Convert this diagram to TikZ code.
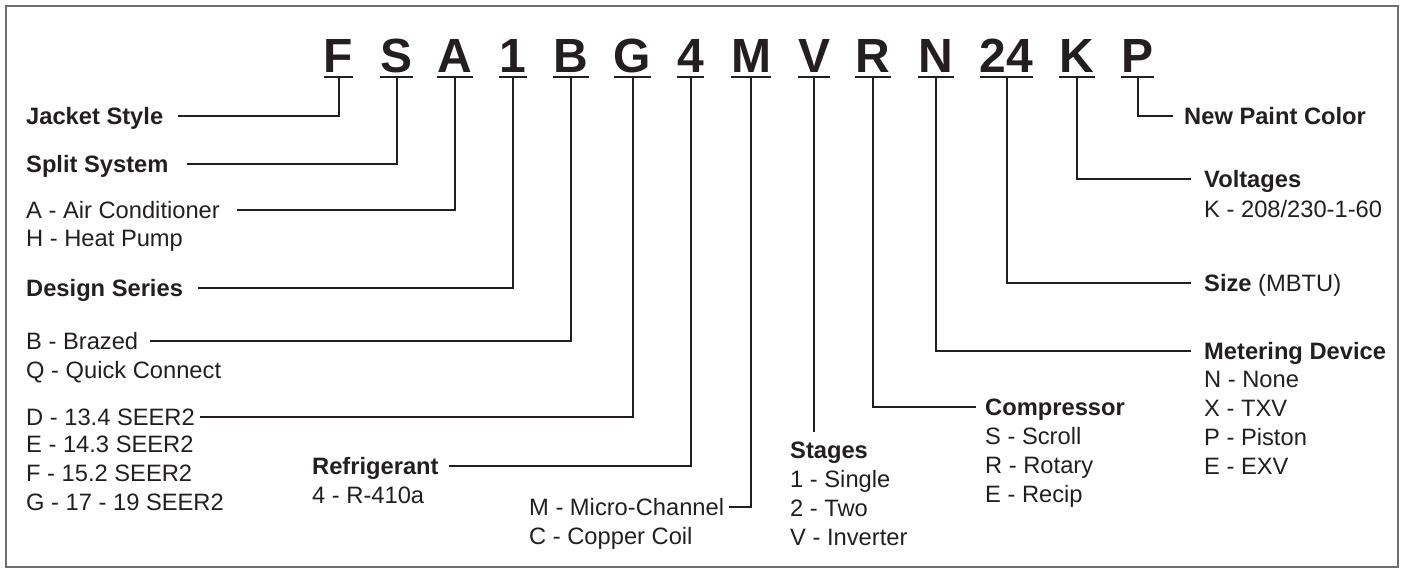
\documentclass[tikz,border=0pt]{standalone}
\usepackage{fontspec}
\setmainfont{Liberation Sans}
\usetikzlibrary{positioning}
\definecolor{ink}{HTML}{231F20}
\definecolor{framegray}{HTML}{6D6E71}

\begin{document}
\begin{tikzpicture}[x=1pt, y=1pt,
    code/.style={anchor=base, inner xsep=0pt, inner ysep=4.5pt, text depth=0pt, text=ink,
        font=\fontsize{48}{48}\selectfont\bfseries,
        append after command={(\tikzlastnode.south west) edge[conn] (\tikzlastnode.south east)}},
    lbl/.style={anchor=west, inner sep=0pt, text height=17pt, text depth=1pt, text=ink,
        font=\fontsize{23.7}{29}\selectfont},
    head/.style={lbl, font=\fontsize{23.7}{29}\selectfont\bfseries},
    list/.style={inner sep=0pt, align=left, text=ink, font=\fontsize{23.7}{29}\selectfont},
    conn/.style={draw=ink, line width=2pt}]
    \useasboundingbox (0,0) rectangle (1404,-568);

    % Frame
    \draw[framegray, line width=2pt] (5.5,-6) rectangle (1397.5,-566.5);

    % Code letters
    \node[code] (f) at (338.5,-72) {F};
    \node[code] (s) at (396.5,-72) {S};
    \node[code] (a) at (455,-72) {A};
    \node[code] (one) at (513,-72) {1};
    \node[code] (b) at (571,-72) {B};
    \node[code] (g) at (632.5,-72) {G};
    \node[code] (four) at (690.5,-72) {4};
    \node[code] (m) at (751,-72) {M};
    \node[code] (v) at (814,-72) {V};
    \node[code] (r) at (873,-72) {R};
    \node[code] (n) at (936,-72) {N};
    \node[code] (n24) at (1006.5,-72) {24};
    \node[code] (k) at (1077,-72) {K};
    \node[code] (p) at (1137.5,-72) {P};

    % Labels, left side
    \node[head] (jacket) at (26,-116) {Jacket Style};
    \node[head] (split) at (26,-164) {Split System};
    \node[lbl] (air) at (26,-210) {A - Air Conditioner};
    \node[list, below=11pt of air.south west, anchor=north west] (heat) {H - Heat Pump};
    \node[head] (design) at (26,-288) {Design Series};
    \node[lbl] (brazed) at (26,-341) {B - Brazed};
    \node[list, below=11pt of brazed.south west, anchor=north west] (quick) {Q - Quick Connect};
    \node[lbl] (seer) at (26,-417) {D - 13.4 SEER2};
    \node[list, below=10pt of seer.south west, anchor=north west] (seerList) {E - 14.3 SEER2\\F - 15.2 SEER2\\G - 17 - 19 SEER2};
    \node[head] (refrig) at (312,-466) {Refrigerant};
    \node[list, below=12pt of refrig.south west, anchor=north west] (r410) {4 - R-410a};
    \node[lbl] (micro) at (529,-507) {M - Micro-Channel};
    \node[list, below=11pt of micro.south west, anchor=north west] (copper) {C - Copper Coil};

    % Labels, right side
    \node[head] (stages) at (790,-450) {Stages};
    \node[list, below=11pt of stages.south west, anchor=north west] (stageList) {1 - Single\\2 - Two\\V - Inverter};
    \node[head] (compr) at (985,-407) {Compressor};
    \node[list, below=11pt of compr.south west, anchor=north west] (comprList) {S - Scroll\\R - Rotary\\E - Recip};
    \node[head] (meter) at (1204,-351) {Metering Device};
    \node[list, below=11pt of meter.south west, anchor=north west] (meterList) {N - None\\X - TXV\\P - Piston\\E - EXV};
    \node[lbl] (size) at (1204,-283) {\textbf{Size} (MBTU)};
    \node[head] (volt) at (1204,-179) {Voltages};
    \node[list, below=12pt of volt.south west, anchor=north west] (voltList) {K - 208/230-1-60};
    \node[head] (paint) at (1184,-116) {New Paint Color};

    % Lines
    \draw[conn, shorten >=15pt] (f.south) |- (jacket.east);
    \draw[conn, shorten >=18pt] (s.south) |- (split.east);
    \draw[conn, shorten >=17pt] (a.south) |- (air.east);
    \draw[conn, shorten >=15pt] (one.south) |- (design.east);
    \draw[conn, shorten >=12pt] (b.south) |- (brazed.east);
    \draw[conn, shorten >=5pt] (g.south) |- (seer.east);
    \draw[conn, shorten >=10pt] (four.south) |- (refrig.east);
    \draw[conn, shorten >=5pt] (m.south) |- (micro.east);
    \draw[conn, shorten >=9pt] (v.south) -- (v.south |- stages.north);
    \draw[conn, shorten >=9pt] (r.south) |- (compr.west);
    \draw[conn, shorten >=13pt] (n.south) |- (meter.west);
    \draw[conn, shorten >=13pt] (n24.south) |- (size.west);
    \draw[conn, shorten >=13pt] (k.south) |- (volt.west);
    \draw[conn, shorten >=11pt] (p.south) |- (paint.west);
\end{tikzpicture}
\end{document}
